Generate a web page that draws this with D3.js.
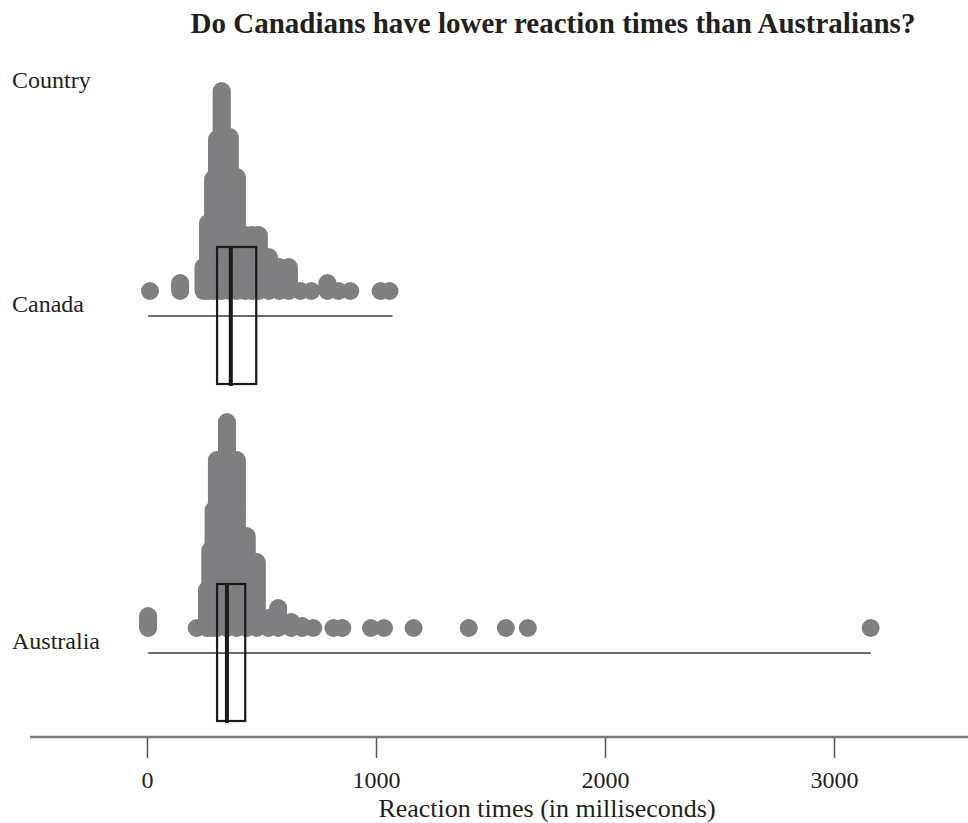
<!DOCTYPE html>
<html>
<head>
<meta charset="utf-8">
<script src="https://cdn.jsdelivr.net/npm/d3@7"></script>
<style>
body { margin: 0; background: #fff; }
</style>
</head>
<body>
<svg id="chart" width="968" height="823"></svg>
<script>
var countries = ["Canada", "Australia"];

// stacked dot columns: reaction time (ms) and how many dots sit in the stack
var canadaTimes  = [13, 145, 247, 267, 289, 306, 326, 361, 392, 429, 458, 488, 532, 578, 619, 670, 718, 788, 836, 888, 1020, 1059];
var canadaCounts = [1, 5, 13, 35, 57, 77, 101, 78, 58, 29, 29, 29, 18, 13, 13, 1, 1, 5, 1, 1, 1, 1];

var australiaTimes  = [5, 217, 262, 277, 291, 305, 349, 392, 435, 479, 530, 573, 630, 678, 726, 814, 853, 978, 1035, 1164, 1405, 1567, 1663, 3160];
var australiaCounts = [7, 1, 20, 40, 60, 85, 104, 85, 47, 34, 6, 11, 4, 2, 1, 1, 1, 1, 1, 1, 1, 1, 1, 1];

// box plot summaries, same order as countries
var boxQ1     = [306, 306];
var boxMedian = [366, 349];
var boxQ3     = [477, 429];
var rangeMin  = [5, 5];
var rangeMax  = [1072, 3160];

var tickValues = [0, 1000, 2000, 3000];

var svg = d3.select("#chart");
var font = "'Liberation Serif', 'Times New Roman', serif";
var ink = "#231f20";

var x = d3.scaleLinear().domain([0, 3000]).range([147, 834]);
var yBase = d3.scalePoint().domain(countries).range([291, 628]);
var stack = d3.scaleLinear().domain([0, 100]).range([0, -200]);

var dotData = [];
function addDots(country, times, counts) {
    times.forEach(function(t, k) {
        for (var i = 0; i < counts[k]; i++) {
            dotData.push({country: country, value: t, level: i});
        }
    });
}
addDots("Canada", canadaTimes, canadaCounts);
addDots("Australia", australiaTimes, australiaCounts);

svg.append("g").selectAll("circle")
    .data(dotData)
    .enter().append("circle")
        .attr("cx", function(d){ return x(d.value); })
        .attr("cy", function(d){ return yBase(d.country) + stack(d.level); })
        .attr("r", 9)
        .attr("fill", "#7f7f82");

var boxes = countries.map(function(c, i){
    return {country: c, q1: boxQ1[i], med: boxMedian[i], q3: boxQ3[i], lo: rangeMin[i], hi: rangeMax[i]};
});

// range lines
svg.append("g").selectAll("line")
    .data(boxes)
    .enter().append("line")
        .attr("x1", function(d){ return x(d.lo); })
        .attr("x2", function(d){ return x(d.hi); })
        .attr("y1", function(d){ return yBase(d.country) + 25; })
        .attr("y2", function(d){ return yBase(d.country) + 25; })
        .attr("stroke", "#6a6a6a")
        .attr("stroke-width", 2);

// boxes
svg.append("g").selectAll("rect")
    .data(boxes)
    .enter().append("rect")
        .attr("x", function(d){ return x(d.q1); })
        .attr("width", function(d){ return x(d.q3) - x(d.q1); })
        .attr("y", function(d){ return yBase(d.country) - 44; })
        .attr("height", 137)
        .attr("fill", "none")
        .attr("stroke", "#1a1a1a")
        .attr("stroke-width", 2.2);

svg.append("g").selectAll("line")
    .data(boxes)
    .enter().append("line")
        .attr("x1", function(d){ return x(d.med); })
        .attr("x2", function(d){ return x(d.med); })
        .attr("y1", function(d){ return yBase(d.country) - 44; })
        .attr("y2", function(d){ return yBase(d.country) + 95; })
        .attr("stroke", "#1a1a1a")
        .attr("stroke-width", 4);

// country labels
svg.append("text")
    .attr("x", 12).attr("y", 88)
    .text("Country")
    .attr("font-family", font).attr("font-size", "24px").attr("fill", ink);

svg.append("g").selectAll("text")
    .data(countries)
    .enter().append("text")
        .attr("x", 12)
        .attr("y", function(d){ return yBase(d) + 21; })
        .text(function(d){ return d; })
        .attr("font-family", font)
        .attr("font-size", "24px")
        .attr("fill", ink);

// x axis
var axisG = svg.append("g").attr("transform", "translate(0,737)");
axisG.call(d3.axisBottom(x).tickValues(tickValues).tickSize(21).tickPadding(13).tickFormat(d3.format("d")));
axisG.select(".domain").remove();
axisG.selectAll(".tick line").attr("stroke", "#555").attr("stroke-width", 1.5);
axisG.selectAll(".tick text")
    .attr("font-family", font)
    .attr("font-size", "24px")
    .attr("fill", ink);
axisG.append("line")
    .attr("x1", 30).attr("x2", 968)
    .attr("y1", 0).attr("y2", 0)
    .attr("stroke", "#7a7a7a")
    .attr("stroke-width", 2.5);

svg.append("text")
    .attr("x", 547).attr("y", 817)
    .attr("text-anchor", "middle")
    .text("Reaction times (in milliseconds)")
    .attr("font-family", font).attr("font-size", "26px").attr("fill", ink);

// title
svg.append("text")
    .attr("x", 553).attr("y", 33)
    .attr("text-anchor", "middle")
    .text("Do Canadians have lower reaction times than Australians?")
    .attr("font-family", font).attr("font-size", "29px")
    .attr("font-weight", "bold").attr("fill", ink);
</script>
</body>
</html>
